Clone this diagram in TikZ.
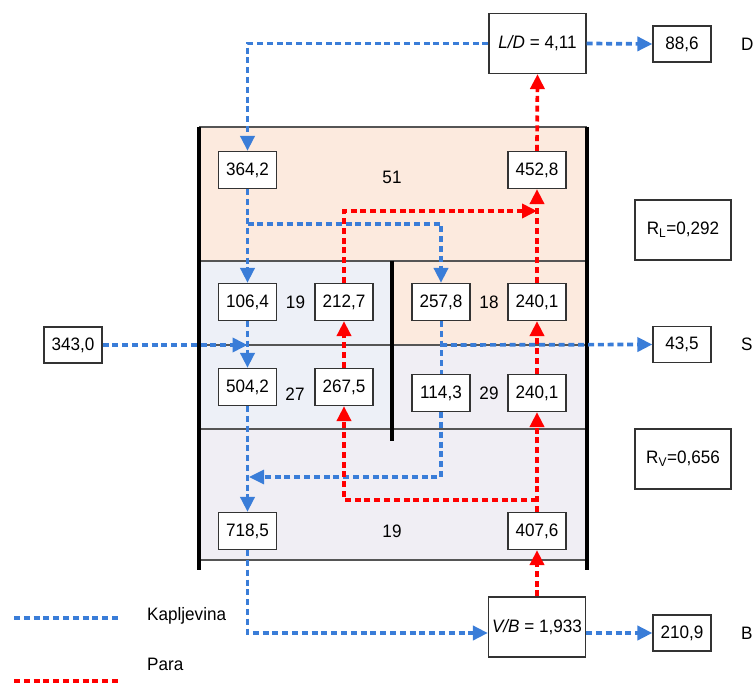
\documentclass[tikz,border=0pt]{standalone}
\usepackage{fontspec}
\setmainfont{Liberation Sans}[FakeStretch=0.95]
\usetikzlibrary{arrows.meta,calc}
\definecolor{liqblue}{RGB}{58,125,216}
\definecolor{peach}{RGB}{252,234,222}
\definecolor{bluegray}{RGB}{237,240,247}
\definecolor{lilgray}{RGB}{240,238,244}
\definecolor{secline}{RGB}{85,85,85}
\begin{document}
\begin{tikzpicture}[x=1pt,y=-1pt,
  font=\fontsize{18}{21}\selectfont,
  valbox/.style={draw=black!80,line width=1.2pt,fill=white,minimum width=58pt,minimum height=37pt,inner sep=0pt},
  bigbox/.style={draw=black!80,line width=1.2pt,fill=white,minimum width=97pt,minimum height=60pt,inner sep=0pt},
  lbl/.style={inner sep=0pt},
  liq/.style={draw=liqblue,line width=3.7pt,dash pattern=on 6pt off 3.8pt},
  vap/.style={draw=red,line width=3.7pt,dash pattern=on 6pt off 3.8pt},
  tip/.style={-{Triangle[length=15pt,width=14pt]}},
  secl/.style={draw=secline,line width=1.5pt},
  wall/.style={draw=black,line width=3.6pt}]
\useasboundingbox (0,0) rectangle (755,684);
% column backgrounds
\fill[peach] (199,127) rectangle (587,261);
\fill[bluegray] (199,261) rectangle (392,429);
\fill[peach] (392,261) rectangle (587,345);
\fill[lilgray] (392,345) rectangle (587,429);
\fill[lilgray] (199,429) rectangle (587,560);
\foreach \yy in {127,261,345,429,560} \draw[secl] (199,\yy) -- (587,\yy);
\draw[wall] (199,127) -- (199,570);
\draw[wall] (587,127) -- (587,570);
\draw[draw=black,line width=3.2pt] (392,261) -- (392,441);
% nodes
\node[bigbox] (LD) at (537.5,43.5) {\textit{L/D} = 4,11};
\node[valbox,minimum height=36pt] (d86) at (682,44) {88,6};
\node[lbl,anchor=west] (Dl) at (741,44) {D};
\node[valbox] (n3642) at (247.5,170) {364,2};
\node[valbox] (n4528) at (537,170) {452,8};
\node[lbl] (t51) at (392,177) {51};
\node[bigbox,minimum width=96pt] (RL) at (683,230) {R\textsubscript{L}=0,292};
\node[valbox] (n1064) at (247.5,302) {106,4};
\node[lbl] (t19a) at (295.5,302.5) {19};
\node[valbox] (n2127) at (344,302) {212,7};
\node[valbox] (n2578) at (441,302) {257,8};
\node[lbl] (t18) at (489,302.5) {18};
\node[valbox] (n2401a) at (537,302) {240,1};
\node[valbox,minimum height=36pt] (feed) at (73,345) {343,0};
\node[valbox,minimum height=36pt] (s435) at (682,344.5) {43,5};
\node[lbl,anchor=west] (Sl) at (741,344) {S};
\node[valbox] (n5042) at (247.5,387) {504,2};
\node[lbl] (t27) at (295,394) {27};
\node[valbox] (n2675) at (344,387) {267,5};
\node[valbox] (n1143) at (441,393) {114,3};
\node[lbl] (t29) at (489,393) {29};
\node[valbox] (n2401b) at (537,393) {240,1};
\node[bigbox,minimum width=96pt] (RV) at (683,459) {R\textsubscript{V}=0,656};
\node[valbox] (n7185) at (247.5,531) {718,5};
\node[lbl] (t19b) at (392,531.5) {19};
\node[valbox] (n4076) at (537,531) {407,6};
\node[bigbox] (VB) at (537,627) {\textit{V/B} = 1,933};
\node[valbox,minimum height=36pt] (b2109) at (682,633) {210,9};
\node[lbl,anchor=west] (Bl) at (741,633) {B};
% junction coordinates
\coordinate (bj1) at (247.5,224);
\coordinate (fj) at (247.5,345);
\coordinate (sj) at (441,345);
\coordinate (j2) at (249,477);
\coordinate (rj) at (537,500);
\coordinate (rj2) at (537,211);
% liquid connectors
\draw[liq,tip] (LD.west) -| (n3642.north);
\draw[liq,tip] (LD.east) -- (d86.west);
\draw[liq,tip] (n3642.south) -- (n1064.north);
\draw[liq,tip] (bj1) -| (n2578.north);
\draw[liq,tip] (n1064.south) -- (n5042.north);
\draw[liq,tip] (feed.east) -- (fj);
\draw[liq,line width=3pt] (n2578.south) -- (n1143.north);
\draw[liq,tip] (sj) -- (s435.west);
\draw[liq,line width=3.2pt,tip] (n1143.south) |- (j2);
\draw[liq,tip] (n5042.south) -- (n7185.north);
\draw[liq,tip] (n7185.south) |- (VB.west |- b2109.center);
\draw[liq,tip] (VB.east |- b2109.center) -- (b2109.west);
% vapour connectors
\draw[vap,tip] (VB.north) -- (n4076.south);
\draw[vap,tip] (n4076.north) -- (n2401b.south);
\draw[vap,tip] (rj) -| (n2675.south);
\draw[vap,tip] (n2401b.north) -- (n2401a.south);
\draw[vap,tip] (n2401a.north) -- (n4528.south);
\draw[vap,tip] (n4528.north) -- (LD.south);
\draw[vap,tip] (n2675.north) -- (n2127.south);
\draw[vap,tip] (n2127.north) |- (rj2);
% legend
\coordinate (lq1) at (14,618);
\coordinate (lq2) at (120,618);
\coordinate (lv1) at (14,681);
\coordinate (lv2) at (120,681);
\draw[liq] (lq1) -- (lq2);
\draw[vap] (lv1) -- (lv2);
\node[lbl,anchor=west] (kap) at (147,616) {Kapljevina};
\node[lbl,anchor=west] (para) at (147,664) {Para};
\end{tikzpicture}
\end{document}
